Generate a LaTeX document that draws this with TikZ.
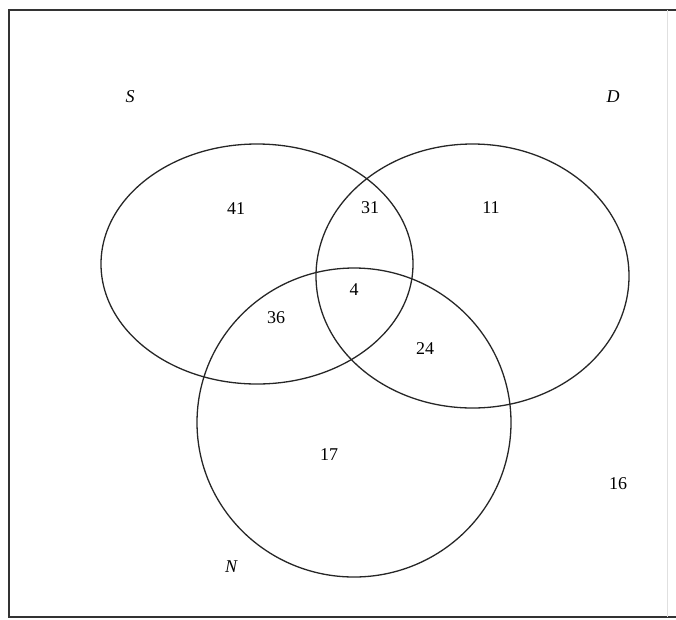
\documentclass[tikz,border=0pt]{standalone}
\usepackage{fontspec}
\setmainfont{Liberation Serif}
\begin{document}
\begin{tikzpicture}[x=1pt,y=-1pt,
  setline/.style={line width=1.3pt, draw=black!85},
  framel/.style={line width=2pt, draw=black!80},
  num/.style={font=\fontsize{18}{20}\selectfont, inner sep=0pt},
  setname/.style={font=\fontsize{18}{20}\selectfont\itshape, inner sep=0pt}]
\useasboundingbox (0,0) rectangle (676,619);
\coordinate (tl) at (9,10);
\coordinate (tr) at (676,10);
\coordinate (bl) at (9,617);
\coordinate (br) at (676,617);
\coordinate (rt) at (667,10);
\coordinate (rb) at (667,617);
\draw[framel] (tr) -- (tl) -- (bl) -- (br);
\draw[line width=1pt, draw=black!12] (rt) -- (rb);
\draw[setline] (257,264) ellipse [x radius=156, y radius=120];
\draw[setline] (472.5,276) ellipse [x radius=156.5, y radius=132];
\draw[setline] (354,422.5) ellipse [x radius=157, y radius=154.5];
\node[setname] (S) at (130,97) {S};
\node[setname] (D) at (613,97) {D};
\node[setname] (N) at (231,567) {N};
\node[num] (a41) at (236,209) {41};
\node[num] (a31) at (370,208) {31};
\node[num] (a11) at (491,208) {11};
\node[num] (a4) at (354,290) {4};
\node[num] (a36) at (276,318) {36};
\node[num] (a24) at (425,349) {24};
\node[num] (a17) at (329,455) {17};
\node[num] (a16) at (618,484) {16};
\end{tikzpicture}
\end{document}
